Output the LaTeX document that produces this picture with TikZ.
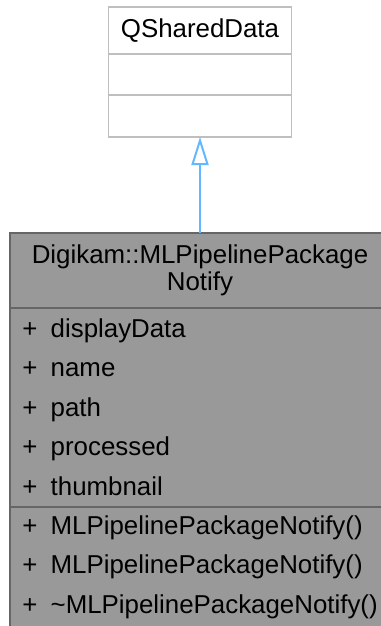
\documentclass[tikz,border=0pt]{standalone}
\usepackage{fontspec}
\setmainfont{Liberation Sans}
\usetikzlibrary{arrows.meta,positioning}
\definecolor{cFill}{HTML}{999999}
\definecolor{cLine}{HTML}{666666}
\definecolor{cBase}{HTML}{BFBFBF}
\definecolor{cEdge}{HTML}{63B8FF}
\newcommand{\mfont}{\fontsize{19.4}{19.8}\selectfont}
\newcommand{\pubm}[1]{+\hspace{10pt}#1}
\tikzset{
  basebox/.style={rectangle,draw=cBase,fill=white,line width=1.3pt,
                  minimum width=137.25pt,inner sep=0pt,outer sep=0pt,
                  font=\mfont},
  classbox/.style={rectangle,draw=cLine,fill=cFill,line width=1.3pt,
                   minimum width=285pt,inner sep=0pt,outer sep=0pt,
                   align=center,font=\mfont},
  member/.style={anchor=base west,inner sep=0pt,font=\mfont},
  inharr/.style={-{Triangle[fill=white,length=21pt,width=12.75pt]},
                 line width=1.5pt,color=cEdge}
}
\begin{document}
\begin{tikzpicture}[x=0.75pt,y=-0.75pt]
  \useasboundingbox (0,0) rectangle (381,626);
  \clip (0,0) rectangle (381,626);

  % base class
  \node[basebox,anchor=north,minimum height=35.25pt] (base) at (200,7)
      {QSharedData};
  \node[basebox,minimum height=30.75pt,below=0pt of base] (baseattr) {};
  \node[basebox,minimum height=31.5pt,below=0pt of baseattr] (baseops) {};

  % derived class
  \node[classbox,anchor=north,minimum height=56.25pt] (cls) at (200,233)
      {Digikam::MLPipelinePackage\\Notify};
  \node[classbox,minimum height=149.25pt,below=0pt of cls] (clsattr) {};
  \node[classbox,minimum height=93.75pt,below=0pt of clsattr] (clsops) {};

  % members
  \node[member] (mDisp)  at (22,337)   {\pubm{displayData}};
  \node[member] (mName)  at (22,376.5) {\pubm{name}};
  \node[member] (mPath)  at (22,416)   {\pubm{path}};
  \node[member] (mProc)  at (22,455.5) {\pubm{processed}};
  \node[member] (mThumb) at (22,495)   {\pubm{thumbnail}};
  \node[member] (mCtorA) at (22,534)   {\pubm{MLPipelinePackageNotify()}};
  \node[member] (mCtorB) at (22,573.5) {\pubm{MLPipelinePackageNotify()}};
  \node[member] (mDtor)  at (22,613)
      {\pubm{\textasciitilde MLPipelinePackageNotify()}};

  \draw[inharr] (cls.north) -- (baseops.south);
\end{tikzpicture}
\end{document}
